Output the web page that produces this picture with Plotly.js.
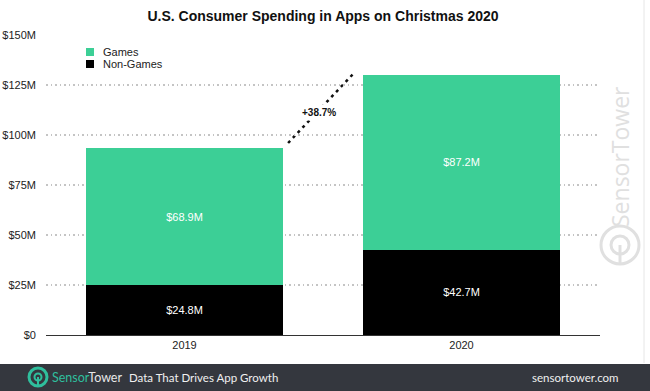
<!DOCTYPE html>
<html>
<head>
<meta charset="utf-8">
<script src="https://cdn.plot.ly/plotly-3.0.1.min.js"></script>
<style>html,body{margin:0;padding:0;background:#fff;}#chart{width:650px;height:391px;}</style>
</head>
<body>
<div id="chart"></div>
<script>
// ---- data ----
const years = ["2019", "2020"];
const games = [68.9, 87.2];
const nonGames = [24.8, 42.7];
const growthLabel = "+38.7%";
const yTickVals = [0, 25, 50, 75, 100, 125, 150];
const yTickText = ["$0", "$25M", "$50M", "$75M", "$100M", "$125M", "$150M"];
const seriesNames = ["Games", "Non-Games"];

// ---- style ----
const GREEN = "#3ccf96";
const BLACK = "#000000";
const TEAL = "#2fbf9d";
const WM = "#e0e0e0";
const FONT = "Liberation Sans, Arial, sans-serif";
const FOOTFONT = "Lato, Open Sans, sans-serif";
const W = 650, H = 391;
const M = {l: 46, r: 50, t: 35, b: 56};
const PW = W - M.l - M.r, PH = H - M.t - M.b;
const px = v => (v - M.l) / PW;           // pixel x -> paper
const py = v => (H - M.b - v) / PH;       // pixel y -> paper

const totals = years.map((_, i) => games[i] + nonGames[i]);
const fmt = v => "$" + v.toFixed(1) + "M";

const traces = [
  {type: "bar", name: seriesNames[1], x: years, y: nonGames, marker: {color: BLACK},
   text: nonGames.map(fmt), textposition: "inside", insidetextanchor: "middle",
   textfont: {color: "#ffffff", size: 11, family: FONT}, width: 0.71, showlegend: false, hoverinfo: "skip"},
  {type: "bar", name: seriesNames[0], x: years, y: games, marker: {color: GREEN},
   text: games.map(fmt), textposition: "inside", insidetextanchor: "middle",
   textfont: {color: "#ffffff", size: 11, family: FONT}, width: 0.71, showlegend: false, hoverinfo: "skip"}
];

const annotations = [];
years.forEach((yr, i) => {
  annotations.push({x: yr, y: totals[i], xref: "x", yref: "y", text: "<b>" + fmt(totals[i]) + "</b>",
    showarrow: false, yanchor: "bottom", yshift: 4, font: {size: 11, color: "#111", family: FONT}});
});
annotations.push({x: 0.485, y: 111.5, xref: "x", yref: "y", text: "<b>" + growthLabel + "</b>",
  showarrow: false, bgcolor: "#ffffff", borderpad: 2, font: {size: 10, color: "#111", family: FONT}});
// legend text
annotations.push({x: px(101), y: py(52), xref: "paper", yref: "paper", text: seriesNames[0], showarrow: false,
  xanchor: "left", yanchor: "middle", font: {size: 11, color: "#222", family: FONT}});
annotations.push({x: px(101), y: py(64), xref: "paper", yref: "paper", text: seriesNames[1], showarrow: false,
  xanchor: "left", yanchor: "middle", font: {size: 11, color: "#222", family: FONT}});
// watermark
annotations.push({x: px(620), y: py(157), xref: "paper", yref: "paper", text: "SensorTower", showarrow: false,
  textangle: -90, xanchor: "center", yanchor: "middle", font: {size: 23, color: WM, family: "Open Sans, sans-serif"}});
// footer
annotations.push({x: px(50), y: py(377), xref: "paper", yref: "paper",
  text: "<span style='color:" + TEAL + "'>Sensor</span>Tower", showarrow: false, xanchor: "left", yanchor: "middle",
  font: {size: 12.5, color: "#e8e8e8", family: FOOTFONT}});
annotations.push({x: px(127), y: py(377), xref: "paper", yref: "paper",
  text: "Data That Drives App Growth", showarrow: false, xanchor: "left", yanchor: "middle",
  font: {size: 11.5, color: "#f0f0f0", family: FOOTFONT}});
annotations.push({x: px(621), y: py(377), xref: "paper", yref: "paper",
  text: "sensortower.com", showarrow: false, xanchor: "right", yanchor: "middle",
  font: {size: 11.5, color: "#f0f0f0", family: FOOTFONT}});

function circ(cx, cy, r, opts) {
  return Object.assign({type: "circle", xref: "paper", yref: "paper",
    x0: px(cx - r), x1: px(cx + r), y0: py(cy + r), y1: py(cy - r)}, opts);
}

const shapes = [
  // footer band
  {type: "rect", xref: "paper", yref: "paper", x0: px(0), x1: px(W), y0: py(H), y1: py(364),
   fillcolor: "#34373e", line: {width: 0}, layer: "below"},
  // right faint border
  {type: "line", xref: "paper", yref: "paper", x0: px(644), x1: px(644), y0: py(0), y1: py(363),
   line: {color: "#e6e6e6", width: 1}},
  // growth dashed line
  {type: "line", xref: "x", yref: "y", x0: 0.374, y0: 96, x1: 0.612, y1: 131,
   line: {color: "#111", width: 2.5, dash: "3px,4px"}, layer: "below"},
  // legend squares
  {type: "rect", xref: "paper", yref: "paper", x0: px(86), x1: px(94), y0: py(56), y1: py(48),
   fillcolor: GREEN, line: {width: 0}},
  {type: "rect", xref: "paper", yref: "paper", x0: px(86), x1: px(94), y0: py(68), y1: py(60),
   fillcolor: BLACK, line: {width: 0}},
  // watermark logo
  circ(620, 245, 19, {line: {color: WM, width: 3}}),
  circ(620, 245, 9, {line: {color: WM, width: 3}}),
  {type: "line", xref: "paper", yref: "paper", x0: px(620), x1: px(620), y0: py(245), y1: py(264),
   line: {color: WM, width: 3}},
  // footer logo
  circ(38, 377, 9, {line: {color: TEAL, width: 3}}),
  circ(38, 377, 3.5, {line: {color: TEAL, width: 2}}),
  {type: "line", xref: "paper", yref: "paper", x0: px(38), x1: px(38), y0: py(377), y1: py(386),
   line: {color: TEAL, width: 2}}
];

const layout = {
  width: W, height: H,
  margin: M,
  paper_bgcolor: "#ffffff", plot_bgcolor: "#ffffff",
  barmode: "stack",
  showlegend: false,
  title: {text: "<b>U.S. Consumer Spending in Apps on Christmas 2020</b>", x: 0.5, xref: "paper",
    xanchor: "center", y: 1 - 16 / H, yref: "container", yanchor: "middle",
    font: {size: 14, color: "#111", family: FONT}},
  xaxis: {type: "category", range: [-0.5, 1.5], showgrid: false, showline: true, linecolor: "#333",
    linewidth: 1, ticks: "", tickfont: {size: 11, color: "#222", family: FONT}, fixedrange: true},
  yaxis: {range: [0, 150], tickvals: yTickVals, ticktext: yTickText, showgrid: true, gridcolor: "#c4c4c4",
    griddash: "1.5px,3px", gridwidth: 1.5, zeroline: false, showline: false, ticks: "",
    ticklabelstandoff: 9, tickfont: {size: 11, color: "#222", family: FONT}, fixedrange: true},
  annotations: annotations,
  shapes: shapes,
  font: {family: FONT}
};

Plotly.newPlot("chart", traces, layout, {displayModeBar: false, staticPlot: true});
</script>
</body>
</html>
